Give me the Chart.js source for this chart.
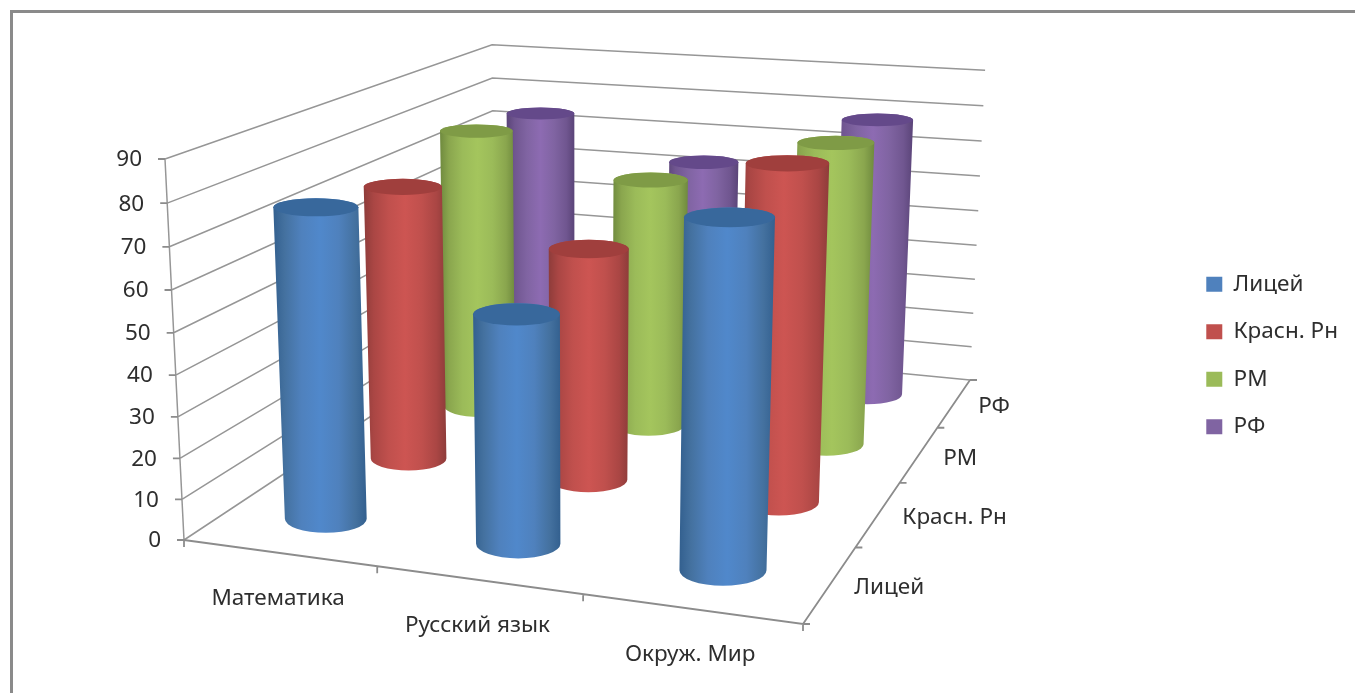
<!DOCTYPE html>
<html>
<head>
<meta charset="utf-8">
<script src="https://cdn.jsdelivr.net/npm/chart.js@4"></script>
<style>
	html, body { margin: 0; height: 100%; overflow: hidden; background: #fff; }
	#frame { position: fixed; left: 10px; top: 10px; width: 2000px; height: 2000px; border: 3px solid #8a8a8a; }
	#chart { position: fixed; left: 0; top: 0; }
</style>
</head>
<body>
<div id="frame"></div>
<canvas id="chart" width="1355" height="693"></canvas>
<script>
const subjects = ["Математика", "Русский язык", "Окруж. Мир"]
const seriesNames = ["Лицей", "Красн. Рн", "РМ", "РФ"]
const valueTicks = [0, 10, 20, 30, 40, 50, 60, 70, 80, 90]

const liceyValues = [76, 55, 81]
const krasnValues = [71.5, 59.5, 84]
const rmValues = [77.5, 67.5, 80.5]
const rfValues = [74.5, 63.5, 78.5]
const allValues = [liceyValues, krasnValues, rmValues, rfValues]

const baseColors = ["#4F81BD", "#C0504D", "#9BBB59", "#8064A2"]
const lightColors = ["#5088CB", "#CD5552", "#A4C55D", "#8D6BB2"]
const darkColors = ["#33608F", "#8E3C3A", "#6F8A3E", "#5A4478"]
const midColors = ["#44719F", "#AA4644", "#8AA64E", "#705690"]
const lidColors = ["#38689C", "#A03F3D", "#7F9B46", "#64498A"]

// the 3d box of the chart, where its corners land on the picture
const floorFront = [184, 540]
const floorRight = [803, 624]
const floorBack = [970, 380]
const floorLeft = [495, 334]
const wallTopFront = [165, 159]
const wallTopBack = [985, 72]

function lineCross(a, b, c, d) {
	const m1 = (b[0] - a[0]) / (b[1] - a[1])
	const m2 = (d[0] - c[0]) / (d[1] - c[1])
	const y = (c[0] - a[0] + m1 * a[1] - m2 * c[1]) / (m1 - m2)
	return [a[0] + m1 * (y - a[1]), y]
}

// floor homography from the unit square
const sx = floorFront[0] - floorRight[0] + floorBack[0] - floorLeft[0]
const sy = floorFront[1] - floorRight[1] + floorBack[1] - floorLeft[1]
const dx1 = floorRight[0] - floorBack[0]
const dy1 = floorRight[1] - floorBack[1]
const dx2 = floorLeft[0] - floorBack[0]
const dy2 = floorLeft[1] - floorBack[1]
const den = dx1 * dy2 - dx2 * dy1
const g = (sx * dy2 - dx2 * sy) / den
const h = (dx1 * sy - sx * dy1) / den
const a = floorRight[0] - floorFront[0] + g * floorRight[0]
const b = floorLeft[0] - floorFront[0] + h * floorLeft[0]
const d = floorRight[1] - floorFront[1] + g * floorRight[1]
const e = floorLeft[1] - floorFront[1] + h * floorLeft[1]

// verticals meet far under the chart
const vanish = lineCross(wallTopFront, floorFront, wallTopBack, floorBack)
const k = (floorFront[1] - wallTopFront[1]) / (wallTopFront[1] - vanish[1])

function depth(s, t, value) {
	return g * s + h * t + 1 + k * value / 90
}

function project(s, t, value) {
	const up = k * value / 90
	const w = depth(s, t, value)
	return {
		x: (a * s + b * t + floorFront[0] + up * vanish[0]) / w,
		y: (d * s + e * t + floorFront[1] + up * vanish[1]) / w
	}
}

function cellS(i) { return (i + 0.5) / subjects.length }
function cellT(j) { return (j + 0.5) / seriesNames.length }

// grid lines of the two walls, broken with empty points
const gridPoints = []
valueTicks.forEach(v => {
	gridPoints.push(project(0, 0, v), project(0, 1, v), project(1, 1, v), { x: null, y: null })
})
gridPoints.push(project(0, 0, 0), project(0, 0, 90), { x: null, y: null })

const axisPoints = []
axisPoints.push(project(0, 0, 0), project(1, 0, 0), project(1, 1, 0), { x: null, y: null })
valueTicks.forEach(v => {
	const p = project(0, 0, v)
	axisPoints.push({ x: p.x - 7, y: p.y }, p, { x: null, y: null })
})
subjects.concat([""]).forEach((name, i) => {
	const p = project(i / subjects.length, 0, 0)
	axisPoints.push(p, { x: p.x, y: p.y + 7 }, { x: null, y: null })
})
seriesNames.concat([""]).forEach((name, j) => {
	const p = project(1, j / seriesNames.length, 0)
	axisPoints.push(p, { x: p.x + 7, y: p.y }, { x: null, y: null })
})

const barSets = seriesNames.map((name, j) => ({
	type: "bar",
	label: name,
	order: j,
	grouped: false,
	barThickness: 2,
	backgroundColor: baseColors[j],
	data: allValues[j].map((v, i) => {
		const bottom = project(cellS(i), cellT(j), 0)
		const top = project(cellS(i), cellT(j), v)
		return { x: bottom.x, y: [bottom.y, top.y] }
	})
}))

const cylinderWidth = 84

function flatness(y) {
	return 0.17 + (y - 100) * 0.0004
}

const cylinders = {
	id: "cylinders",
	afterDatasetDraw(chart, args) {
		const j = seriesNames.indexOf(chart.data.datasets[args.index].label)
		if (j < 0) return
		const c = chart.ctx
		args.meta.data.forEach((bar, i) => {
			const bx = bar.x
			const by = Math.max(bar.y, bar.base)
			const ty = Math.min(bar.y, bar.base)
			const tx = bx + (vanish[0] - bx) * (ty - by) / (vanish[1] - by)
			const brx = cylinderWidth / 2 / depth(cellS(i), cellT(j), 0)
			const trx = cylinderWidth / 2 / depth(cellS(i), cellT(j), allValues[j][i])
			const bry = brx * flatness(by)
			const tryy = trx * flatness(ty)
			const left = Math.min(bx - brx, tx - trx)
			const right = Math.max(bx + brx, tx + trx)

			const side = c.createLinearGradient(left, 0, right, 0)
			side.addColorStop(0, darkColors[j])
			side.addColorStop(0.12, midColors[j])
			side.addColorStop(0.3, baseColors[j])
			side.addColorStop(0.5, lightColors[j])
			side.addColorStop(0.7, baseColors[j])
			side.addColorStop(0.88, midColors[j])
			side.addColorStop(1, darkColors[j])

			c.save()
			c.fillStyle = side
			c.beginPath()
			c.moveTo(tx - trx, ty)
			c.lineTo(bx - brx, by)
			c.ellipse(bx, by, brx, bry, 0, Math.PI, 0, true)
			c.lineTo(tx + trx, ty)
			c.ellipse(tx, ty, trx, tryy, 0, 0, Math.PI, true)
			c.closePath()
			c.fill()

			c.fillStyle = lidColors[j]
			c.beginPath()
			c.ellipse(tx, ty, trx, tryy, 0, 0, Math.PI * 2)
			c.fill()
			c.restore()
		})
	}
}

const textColor = "#2e2e2e"
const textFont = "22.5px 'Noto Sans'"

const axisTexts = {
	id: "axisTexts",
	afterDraw(chart) {
		const c = chart.ctx
		c.save()
		c.font = textFont
		c.fillStyle = textColor
		c.textBaseline = "middle"
		c.textAlign = "right"
		valueTicks.forEach(v => {
			const p = project(0, 0, v)
			c.fillText(String(v), p.x - 23, p.y + 1)
		})
		c.textAlign = "center"
		subjects.forEach((name, i) => {
			const p = project(cellS(i), 0, 0)
			c.fillText(name, p.x - 1, p.y + 46)
		})
		c.textAlign = "left"
		seriesNames.forEach((name, j) => {
			const p = project(1, cellT(j), 0)
			c.fillText(name, p.x + 24, p.y + 4)
		})
		c.restore()
	}
}

const paddingTop = 18

new Chart(document.getElementById("chart"), {
	type: "bar",
	data: {
		datasets: [
			...barSets,
			{ type: "line", label: "grid", order: 10, data: gridPoints, borderColor: "#969696", borderWidth: 1.5, pointRadius: 0, spanGaps: false },
			{ type: "line", label: "axes", order: 9, data: axisPoints, borderColor: "#8c8c8c", borderWidth: 1.8, pointRadius: 0, spanGaps: false }
		]
	},
	options: {
		responsive: false,
		animation: false,
		events: [],
		layout: { padding: { top: paddingTop, right: 7 } },
		scales: {
			// one unit on these hidden scales is one pixel of the picture
			x: { type: "linear", display: false, offset: false, bounds: "data", afterDataLimits: s => { s.min = 0; s.max = s.width } },
			y: { type: "linear", display: false, bounds: "data", reverse: true, afterDataLimits: s => { s.min = paddingTop; s.max = paddingTop + s.height } }
		},
		plugins: {
			tooltip: { enabled: false },
			legend: {
				position: "right",
				labels: {
					filter: item => seriesNames.includes(item.text),
					boxWidth: 16,
					boxHeight: 15,
					padding: 25,
					color: textColor,
					font: { family: "Noto Sans", size: 22.5 }
				}
			}
		}
	},
	plugins: [cylinders, axisTexts]
})
</script>
</body>
</html>
